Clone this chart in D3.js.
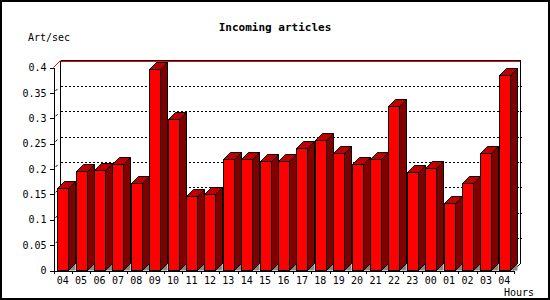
<!DOCTYPE html>
<html>
<head>
<meta charset="utf-8">
<script src="https://cdn.jsdelivr.net/npm/d3@7"></script>
<style>
  body { margin: 0; background: #fff; }
  text { font-family: "DejaVu Sans Mono", monospace; }
</style>
</head>
<body>
<div id="chart"></div>
<script>
// data
const hours = ["04","05","06","07","08","09","10","11","12","13","14","15","16",
               "17","18","19","20","21","22","23","00","01","02","03","04"];
const rates = [0.163,0.196,0.198,0.210,0.173,0.397,0.299,0.147,0.151,0.220,0.220,0.216,0.216,
               0.242,0.258,0.232,0.210,0.220,0.325,0.194,0.202,0.133,0.173,0.232,0.386];
const yTicks = [0,0.05,0.1,0.15,0.2,0.25,0.3,0.35,0.4];
const yTickLabels = ["0","0.05","0.1","0.15","0.2","0.25","0.3","0.35","0.4"];

const width = 550, height = 300;
const depth = 7;          // 3d offset
const x0 = 53.5, x1 = 513.5, yBottom = 270.5, yTop = 67.5;

const svg = d3.select("#chart").append("svg")
  .attr("width", width).attr("height", height);

// outer frame
svg.append("rect")
  .attr("x", 1).attr("y", 1).attr("width", width - 2).attr("height", height - 2)
  .attr("fill", "#fff").attr("stroke", "#000").attr("stroke-width", 2);

// scales
const x = d3.scaleBand().domain(d3.range(hours.length)).range([x0, x1]).paddingInner(0).paddingOuter(0);
const xEdge = d3.scaleLinear().domain([0, hours.length]).range([x0, x1]);
const y = d3.scaleLinear().domain([0, 0.4]).range([yBottom, yTop]);

// back plane grid (dotted)
const back = svg.append("g").attr("shape-rendering", "crispEdges");
back.selectAll("line.grid")
  .data(yTicks.filter(d => d > 0 && d < 0.4))
  .enter().append("line")
  .attr("class", "grid")
  .attr("x1", x0 + depth).attr("x2", x1 + depth + 1)
  .attr("y1", d => Math.round(y(d) - depth) + 0.5)
  .attr("y2", d => Math.round(y(d) - depth) + 0.5)
  .attr("stroke", "#000").attr("stroke-dasharray", "2,2");

// back plane frame
back.append("line")
  .attr("x1", x0 + depth).attr("x2", x1 + depth)
  .attr("y1", y(0.4) - depth).attr("y2", y(0.4) - depth)
  .attr("stroke", "#000");
back.append("line")
  .attr("x1", x0 + depth).attr("x2", x1 + depth)
  .attr("y1", y(0.4) - depth + 1).attr("y2", y(0.4) - depth + 1)
  .attr("stroke", "#f00");
back.append("line")
  .attr("x1", x0 + depth).attr("x2", x0 + depth)
  .attr("y1", y(0.4) - depth).attr("y2", y(0) - depth)
  .attr("stroke", "#000");
back.append("line")
  .attr("x1", x1 + depth).attr("x2", x1 + depth)
  .attr("y1", y(0.4) - depth).attr("y2", y(0) - depth)
  .attr("stroke", "#000");

// depth lines
svg.append("line")
  .attr("x1", x0).attr("y1", y(0.4)).attr("x2", x0 + depth).attr("y2", y(0.4) - depth)
  .attr("stroke", "#f00");
svg.append("line")
  .attr("x1", x1).attr("y1", y(0)).attr("x2", x1 + depth).attr("y2", y(0) - depth)
  .attr("stroke", "#000");
svg.selectAll("line.depthmark")
  .data(yTicks.filter(d => d > 0 && d < 0.4))
  .enter().append("line")
  .attr("class", "depthmark")
  .attr("x1", x0 + 2).attr("y1", d => y(d) - 2)
  .attr("x2", x0 + 4).attr("y2", d => y(d) - 4)
  .attr("stroke", "#000");

// bars
const barW = Math.round(x.bandwidth() * 0.6);
const bars = svg.append("g").selectAll("g.bar")
  .data(rates)
  .enter().append("g").attr("class", "bar");

const xl = (d, i) => Math.round(x(i) + x.bandwidth() / 2 - barW / 2) + 0.5;
const yt = d => Math.round(y(d)) + 0.5;

// shadow triangle under the side face
bars.append("polygon")
  .attr("points", (d, i) => {
    const r = xl(d, i) + barW;
    return [[r, yBottom], [r + depth, yBottom - depth], [r + depth, yBottom]].join(" ");
  })
  .attr("fill", "#888");

// side face
bars.append("polygon")
  .attr("points", (d, i) => {
    const r = xl(d, i) + barW, t = yt(d);
    return [[r, t], [r + depth, t - depth], [r + depth, yBottom - depth], [r, yBottom]].join(" ");
  })
  .attr("fill", "#800000").attr("stroke", "#000").attr("stroke-linejoin", "round");

// top face
bars.append("polygon")
  .attr("points", (d, i) => {
    const l = xl(d, i), r = l + barW, t = yt(d);
    return [[l, t], [l + depth, t - depth], [r + depth, t - depth], [r, t]].join(" ");
  })
  .attr("fill", "#c00000").attr("stroke", "#000").attr("stroke-linejoin", "round");

// front face
bars.append("rect")
  .attr("x", (d, i) => xl(d, i))
  .attr("y", d => yt(d))
  .attr("width", barW)
  .attr("height", d => yBottom - yt(d))
  .attr("fill", "#f00").attr("stroke", "#000")
  .attr("shape-rendering", "crispEdges");

// y axis
const yAxis = d3.axisLeft(y)
  .tickValues(yTicks)
  .tickSize(4).tickSizeOuter(0).tickPadding(3)
  .tickFormat((d, i) => yTickLabels[i]);

const yAxisGroup = svg.append("g")
  .attr("transform", "translate(" + x0 + ",0)")
  .call(yAxis);
yAxisGroup.selectAll("path, line").attr("stroke", "#000").attr("shape-rendering", "crispEdges");
yAxisGroup.selectAll("text")
  .attr("font-family", "DejaVu Sans Mono")
  .attr("font-size", "10px").attr("fill", "#000");

// x axis: ticks on slot edges, labels in slot centres
const xAxis = d3.axisBottom(xEdge)
  .tickValues(d3.range(hours.length + 1))
  .tickSize(3).tickSizeOuter(0)
  .tickFormat("");
const xAxisGroup = svg.append("g")
  .attr("transform", "translate(0," + yBottom + ")")
  .call(xAxis);
xAxisGroup.selectAll("path, line").attr("stroke", "#000").attr("shape-rendering", "crispEdges");

svg.append("g").selectAll("text")
  .data(hours)
  .enter().append("text")
  .attr("x", (d, i) => x(i) + x.bandwidth() / 2)
  .attr("y", 284)
  .attr("text-anchor", "middle")
  .attr("font-size", "10px")
  .text(d => d);

// titles
svg.append("text")
  .attr("x", 275).attr("y", 31)
  .attr("text-anchor", "middle")
  .attr("font-size", "11px").attr("font-weight", "bold")
  .text("Incoming articles");

svg.append("text")
  .attr("x", 28).attr("y", 41)
  .attr("font-size", "10px")
  .text("Art/sec");

svg.append("text")
  .attr("x", 534).attr("y", 296)
  .attr("text-anchor", "end")
  .attr("font-size", "10px")
  .text("Hours");
</script>
</body>
</html>
